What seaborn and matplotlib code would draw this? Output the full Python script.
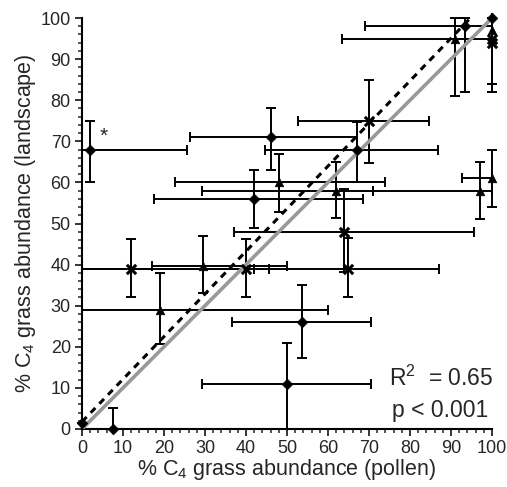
import numpy as np
import pandas as pd
import seaborn as sns
import matplotlib
matplotlib.use('Agg')
from matplotlib import pyplot as plt
from matplotlib.ticker import MultipleLocator

# diamonds
dia_x = [2, 46, 67, 42, 53.7, 50, 7.6, 0, 93.4, 100]
dia_y = [68, 71, 68, 56, 26, 11, 0, 1.5, 98, 100]
dia_xlo = [0, 26.3, 44.6, 17.6, 36.6, 29.3, 7.6, 0, 69, 100]
dia_xhi = [25.5, 67, 86.8, 68.5, 70.5, 70.5, 7.6, 0, 100, 100]
dia_ylo = [60, 63, 60, 49, 17.3, 0, 0, 1.5, 82, 82]
dia_yhi = [75, 78, 74.7, 63, 35, 21, 5, 1.5, 100, 100]

# triangles
tri_x = [48, 29.5, 19, 62, 97, 100, 91, 100]
tri_y = [60, 39.7, 29, 58, 58, 61, 95, 97]
tri_xlo = [22.7, 17, 0, 29.3, 71, 92.7, 63.4, 100]
tri_xhi = [74, 50, 60, 71, 100, 100, 100, 100]
tri_ylo = [52.8, 33, 20.7, 51.3, 51, 54, 81, 84]
tri_yhi = [67, 47, 38, 65, 65, 68, 100, 100]

# crosses
crs_x = [70, 64, 65, 12, 40, 100, 100]
crs_y = [75, 48, 39, 39, 39, 95, 94]
crs_xlo = [52.7, 37, 0, 0, 0, 100, 100]
crs_xhi = [84.6, 95.6, 87, 42, 45.6, 100, 100]
crs_ylo = [64.7, 38.2, 32, 32, 32, 82, 84]
crs_yhi = [85, 58.4, 46.4, 46.2, 46.2, 100, 100]

fit_intercept = 1.75
fit_slope = 1.037

frames = []
for name, x, y, xlo, xhi, ylo, yhi in [
        ('diamond', dia_x, dia_y, dia_xlo, dia_xhi, dia_ylo, dia_yhi),
        ('triangle', tri_x, tri_y, tri_xlo, tri_xhi, tri_ylo, tri_yhi),
        ('cross', crs_x, crs_y, crs_xlo, crs_xhi, crs_ylo, crs_yhi)]:
    frames.append(pd.DataFrame({'pollen': x, 'landscape': y, 'xlo': xlo, 'xhi': xhi,
                                'ylo': ylo, 'yhi': yhi, 'group': name}))
df = pd.concat(frames, ignore_index=True)

sns.set_style('ticks')
plt.rcParams['font.family'] = ['Liberation Sans', 'DejaVu Sans']
plt.rcParams['mathtext.default'] = 'regular'

fig = plt.figure(figsize=(5.07, 4.87), dpi=100)
ax = fig.add_axes([0.1617, 0.1191, 0.8087, 0.8439])

ax.errorbar(df['pollen'], df['landscape'],
            xerr=[df['pollen'] - df['xlo'], df['xhi'] - df['pollen']],
            yerr=[df['landscape'] - df['ylo'], df['yhi'] - df['landscape']],
            fmt='none', ecolor='black', elinewidth=1.4, capsize=3.5, capthick=1.4,
            clip_on=False, zorder=2)

ax.plot([0, 100], [0, 100], color='#999999', lw=2.6, zorder=3)
xe = (100 - fit_intercept) / fit_slope
ax.plot([0, xe], [fit_intercept, fit_intercept + fit_slope * xe], color='black', lw=2.2,
        linestyle=(0, (2.2, 1.9)), zorder=4, clip_on=False)

sns.scatterplot(data=df[df['group'] == 'diamond'], x='pollen', y='landscape', marker='D',
                color='black', edgecolor='black', s=30, ax=ax, clip_on=False, zorder=5)
sns.scatterplot(data=df[df['group'] == 'triangle'], x='pollen', y='landscape', marker='^',
                color='black', edgecolor='black', s=38, ax=ax, clip_on=False, zorder=5)
sns.scatterplot(data=df[df['group'] == 'cross'], x='pollen', y='landscape', marker='x',
                color='black', s=45, linewidth=2.2, ax=ax, clip_on=False, zorder=5)

ax.text(4.2, 71.2, '*', fontsize=15, ha='left', va='center')
ax.text(75, 12.4, 'R$^2$  = 0.65', fontsize=16.5, ha='left', va='center')
ax.text(75.5, 4.4, 'p < 0.001', fontsize=16.5, ha='left', va='center')

ax.set_xlim(0, 100)
ax.set_ylim(0, 100)
ax.xaxis.set_major_locator(MultipleLocator(10))
ax.yaxis.set_major_locator(MultipleLocator(10))
ax.xaxis.set_minor_locator(MultipleLocator(2))
ax.yaxis.set_minor_locator(MultipleLocator(2))
ax.tick_params(which='major', direction='out', length=5, width=1.3, labelsize=13, pad=3)
ax.tick_params(which='minor', direction='out', length=3, width=1.1)
sns.despine(ax=ax)
for s in ['left', 'bottom']:
    ax.spines[s].set_linewidth(1.5)
    ax.spines[s].set_color('black')

ax.set_xlabel('% C$_4$ grass abundance (pollen)', fontsize=15.5, labelpad=0)
ax.set_ylabel('% C$_4$ grass abundance (landscape)', fontsize=15.5, labelpad=2)

fig.savefig('out.png', dpi=100)
